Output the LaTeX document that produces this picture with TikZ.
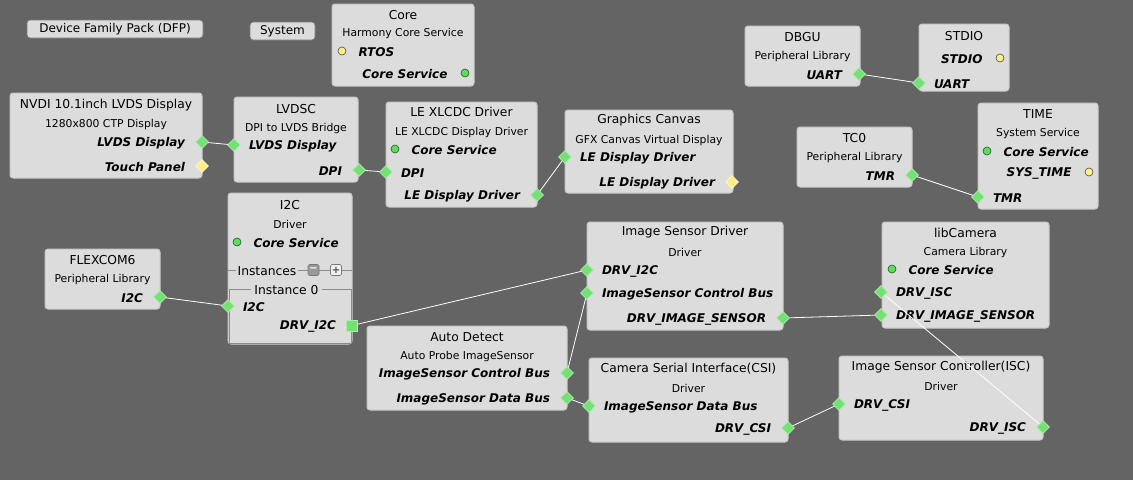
\documentclass[tikz,border=0pt]{standalone}
\usepackage{fontspec}
\setmainfont{DejaVu Sans}
\usepackage{tikz}
\usetikzlibrary{positioning}
\usetikzlibrary{shapes.geometric}
\definecolor{bggray}{RGB}{100,100,100}
\definecolor{boxfill}{RGB}{220,220,220}
\definecolor{boxedge}{RGB}{200,200,200}
\definecolor{btnedge}{RGB}{120,120,120}
\definecolor{pingreen}{RGB}{115,225,115}
\definecolor{pinedge}{RGB}{175,235,175}
\definecolor{pinyellow}{RGB}{255,238,135}
\definecolor{dotgreen}{RGB}{95,220,95}
\definecolor{dotedge}{RGB}{30,90,30}
\tikzset{comp/.style={rectangle, rounded corners=3pt, draw=boxedge, fill=boxfill, line width=1pt, inner sep=0}}
\tikzset{btn/.style={rectangle, rounded corners=3pt, draw=btnedge, fill=boxfill, line width=0.8pt, inner sep=0, font=\fontsize{12}{14}\selectfont}}
\tikzset{minibtn/.style={rectangle, rounded corners=1.5pt, draw=btnedge, line width=0.6pt, inner sep=0, minimum size=11pt, font=\fontsize{10}{10}\selectfont\bfseries}}
\tikzset{ttl/.style={inner sep=0, yshift=-1pt, font=\fontsize{12.3}{14}\selectfont}}
\tikzset{subttl/.style={inner sep=0, yshift=-1.5pt, font=\fontsize{10.8}{13}\selectfont}}
\tikzset{lbl/.style={inner sep=0, yshift=-1pt, font=\fontsize{12}{14}\selectfont\bfseries\itshape}}
\tikzset{portg/.style={diamond, fill=pingreen, draw=pinedge, line width=0.6pt, inner sep=0, minimum width=13pt, minimum height=13pt}}
\tikzset{porty/.style={portg, fill=pinyellow, draw=white!60!pinyellow}}
\tikzset{sqport/.style={rectangle, fill=pingreen, draw=pinedge, line width=0.6pt, inner sep=0, minimum size=11pt}}
\tikzset{dotg/.style={circle, fill=dotgreen, draw=dotedge, line width=0.6pt, inner sep=0, minimum size=8pt}}
\tikzset{doty/.style={dotg, fill=pinyellow, draw=black!70}}
\tikzset{wire/.style={draw=white, line width=0.8pt}}
\tikzset{instline/.style={draw=black!45, line width=0.7pt}}

\begin{document}
\begin{tikzpicture}[x=1pt, y=-1pt]
  \fill[bggray] (0,0) rectangle (1133,480);
  \useasboundingbox (0,0) rectangle (1133,480);

  % top buttons
  \node [btn, minimum width=176pt, minimum height=18pt] (dfp) at (115,29) {Device Family Pack (DFP)};
  \node [btn, minimum width=65pt, minimum height=18pt] (system) at (282.5,31) {System};

  % Core
  \node [comp, minimum width=142pt, minimum height=82pt] (core) at (403,45) {};
  \node [ttl] (core-t) at (403,14) {Core};
  \node [subttl] (core-s) at (403,32) {Harmony Core Service};
  \node [doty] (core-rtos) at (342,51) {};
  \node [lbl, right=12pt of core-rtos] (core-rtos-l) {RTOS};
  \node [dotg] (core-cs) at (465,73) {};
  \node [lbl, left=13pt of core-cs] (core-cs-l) {Core Service};

  % NVDI display
  \node [comp, minimum width=192pt, minimum height=85pt] (nvdi) at (106,135.5) {};
  \node [ttl] (nvdi-t) at (106,104) {NVDI 10.1inch LVDS Display};
  \node [subttl] (nvdi-s) at (106,123) {1280x800 CTP Display};
  \node [portg] (nvdi-lvds) at (202,142) {};
  \node [lbl, left=10pt of nvdi-lvds] (nvdi-lvds-l) {LVDS Display};
  \node [porty] (nvdi-touch) at (202,166) {};
  \node [lbl, left=10pt of nvdi-touch] (nvdi-touch-l) {Touch Panel};

  % LVDSC
  \node [comp, minimum width=124pt, minimum height=85pt] (lvdsc) at (296,139.5) {};
  \node [ttl] (lvdsc-t) at (296,108) {LVDSC};
  \node [subttl] (lvdsc-s) at (296,127) {DPI to LVDS Bridge};
  \node [portg] (lvdsc-lvds) at (234,145) {};
  \node [lbl, right=8pt of lvdsc-lvds] (lvdsc-lvds-l) {LVDS Display};
  \node [portg] (lvdsc-dpi) at (359,170) {};
  \node [lbl, left=10pt of lvdsc-dpi] (lvdsc-dpi-l) {DPI};

  % LE XLCDC
  \node [comp, minimum width=151pt, minimum height=105pt] (xlcdc) at (461.5,154.5) {};
  \node [ttl] (xlcdc-t) at (461.5,111) {LE XLCDC Driver};
  \node [subttl] (xlcdc-s) at (461.5,131) {LE XLCDC Display Driver};
  \node [dotg] (xlcdc-cs) at (395,149) {};
  \node [lbl, right=12pt of xlcdc-cs] (xlcdc-cs-l) {Core Service};
  \node [portg] (xlcdc-dpi) at (386,172) {};
  \node [lbl, right=8pt of xlcdc-dpi] (xlcdc-dpi-l) {DPI};
  \node [portg] (xlcdc-le) at (537,195) {};
  \node [lbl, left=10pt of xlcdc-le] (xlcdc-le-l) {LE Display Driver};

  % Graphics Canvas
  \node [comp, minimum width=168pt, minimum height=83pt] (canvas) at (649,151.5) {};
  \node [ttl] (canvas-t) at (649,119) {Graphics Canvas};
  \node [subttl] (canvas-s) at (649,139) {GFX Canvas Virtual Display};
  \node [portg] (canvas-le) at (565,157) {};
  \node [lbl, right=8pt of canvas-le] (canvas-le-l) {LE Display Driver};
  \node [porty] (canvas-out) at (732,182) {};
  \node [lbl, left=10pt of canvas-out] (canvas-out-l) {LE Display Driver};

  % DBGU / STDIO
  \node [comp, minimum width=115pt, minimum height=60pt] (dbgu) at (802.5,56) {};
  \node [ttl] (dbgu-t) at (802.5,36) {DBGU};
  \node [subttl] (dbgu-s) at (802.5,55) {Peripheral Library};
  \node [portg] (dbgu-uart) at (859,74) {};
  \node [lbl, left=10pt of dbgu-uart] (dbgu-uart-l) {UART};
  \node [comp, minimum width=90pt, minimum height=67pt] (stdio) at (964,57.5) {};
  \node [ttl] (stdio-t) at (964,35) {STDIO};
  \node [doty] (stdio-out) at (1000,58) {};
  \node [lbl, left=13pt of stdio-out] (stdio-out-l) {STDIO};
  \node [portg] (stdio-uart) at (919,83) {};
  \node [lbl, right=8pt of stdio-uart] (stdio-uart-l) {UART};

  % TC0 / TIME
  \node [comp, minimum width=115pt, minimum height=60pt] (tco) at (854.5,157) {};
  \node [ttl] (tco-t) at (854.5,137) {TC0};
  \node [subttl] (tco-s) at (854.5,156) {Peripheral Library};
  \node [portg] (tco-tmr) at (912,175) {};
  \node [lbl, left=10pt of tco-tmr] (tco-tmr-l) {TMR};
  \node [comp, minimum width=120pt, minimum height=106pt] (time) at (1038,156) {};
  \node [ttl] (time-t) at (1038,113) {TIME};
  \node [subttl] (time-s) at (1038,132) {System Service};
  \node [dotg] (time-cs) at (987,151) {};
  \node [lbl, right=12pt of time-cs] (time-cs-l) {Core Service};
  \node [doty] (time-sys) at (1089,172) {};
  \node [lbl, left=13pt of time-sys] (time-sys-l) {SYS\_TIME};
  \node [portg] (time-tmr) at (978,197) {};
  \node [lbl, right=8pt of time-tmr] (time-tmr-l) {TMR};

  % FLEXCOM6
  \node [comp, minimum width=115pt, minimum height=60pt] (flex) at (102.5,279) {};
  \node [ttl] (flex-t) at (102.5,259) {FLEXCOM6};
  \node [subttl] (flex-s) at (102.5,278) {Peripheral Library};
  \node [portg] (flex-i2c) at (160,297) {};
  \node [lbl, left=10pt of flex-i2c] (flex-i2c-l) {I2C};

  % I2C driver
  \node [comp, minimum width=124pt, minimum height=151pt] (itwoc) at (290,268.5) {};
  \node [ttl] (itwoc-t) at (290,204) {I2C};
  \node [subttl] (itwoc-s) at (290,223) {Driver};
  \node [dotg] (itwoc-cs) at (237,242) {};
  \node [lbl, right=12pt of itwoc-cs] (itwoc-cs-l) {Core Service};
  \draw [instline] (228,270) -- (352,270);
  \node [ttl, fill=boxfill, inner xsep=2pt, inner ysep=1pt] (itwoc-inst) at (267,270) {Instances};
  \node [minibtn, fill=black!40, text=white] (itwoc-minus) at (313.5,270) {−};
  \node [minibtn, fill=white!94!black, text=black!70] (itwoc-plus) at (336,270) {+};
  \draw [instline] (229,289) rectangle (351,343);
  \node [ttl, fill=boxfill, inner xsep=3pt, inner ysep=1pt] (itwoc-inst0) at (286.5,289) {Instance 0};
  \node [portg] (itwoc-i2c) at (228,306) {};
  \node [lbl, right=8pt of itwoc-i2c] (itwoc-i2c-l) {I2C};
  \node [sqport] (itwoc-drv) at (352,325.5) {};
  \node [lbl, left=10pt of itwoc-drv] (itwoc-drv-l) {DRV\_I2C};

  % Image Sensor Driver
  \node [comp, minimum width=196pt, minimum height=108pt] (isd) at (685,276) {};
  \node [ttl] (isd-t) at (685,231) {Image Sensor Driver};
  \node [subttl] (isd-s) at (685,251) {Driver};
  \node [portg] (isd-i2c) at (587,270) {};
  \node [lbl, right=8pt of isd-i2c] (isd-i2c-l) {DRV\_I2C};
  \node [portg] (isd-ctrl) at (587,293) {};
  \node [lbl, right=8pt of isd-ctrl] (isd-ctrl-l) {ImageSensor Control Bus};
  \node [portg] (isd-img) at (783,318) {};
  \node [lbl, left=10pt of isd-img] (isd-img-l) {DRV\_IMAGE\_SENSOR};

  % Auto Detect
  \node [comp, minimum width=200pt, minimum height=84pt] (auto) at (467,368) {};
  \node [ttl] (auto-t) at (467,336) {Auto Detect};
  \node [subttl] (auto-s) at (467,355) {Auto Probe ImageSensor};
  \node [portg] (auto-ctrl) at (567,373) {};
  \node [lbl, left=10pt of auto-ctrl] (auto-ctrl-l) {ImageSensor Control Bus};
  \node [portg] (auto-data) at (567,398) {};
  \node [lbl, left=10pt of auto-data] (auto-data-l) {ImageSensor Data Bus};

  % CSI
  \node [comp, minimum width=199pt, minimum height=84pt] (csi) at (688.5,400) {};
  \node [ttl] (csi-t) at (688.5,368) {Camera Serial Interface(CSI)};
  \node [subttl] (csi-s) at (688.5,387) {Driver};
  \node [portg] (csi-data) at (589,406) {};
  \node [lbl, right=8pt of csi-data] (csi-data-l) {ImageSensor Data Bus};
  \node [portg] (csi-drv) at (788,428) {};
  \node [lbl, left=10pt of csi-drv] (csi-drv-l) {DRV\_CSI};

  % libCamera
  \node [comp, minimum width=167pt, minimum height=106pt] (cam) at (965.5,275) {};
  \node [ttl] (cam-t) at (965.5,232) {libCamera};
  \node [subttl] (cam-s) at (965.5,251) {Camera Library};
  \node [dotg] (cam-cs) at (892,269) {};
  \node [lbl, right=12pt of cam-cs] (cam-cs-l) {Core Service};
  \node [portg] (cam-isc) at (881,292) {};
  \node [lbl, right=8pt of cam-isc] (cam-isc-l) {DRV\_ISC};
  \node [portg] (cam-img) at (881,315) {};
  \node [lbl, right=8pt of cam-img] (cam-img-l) {DRV\_IMAGE\_SENSOR};

  % ISC
  \node [comp, minimum width=204pt, minimum height=84pt] (isc) at (941,398) {};
  \node [ttl] (isc-t) at (941,366) {Image Sensor Controller(ISC)};
  \node [subttl] (isc-s) at (941,385) {Driver};
  \node [portg] (isc-csi) at (839,404) {};
  \node [lbl, right=8pt of isc-csi] (isc-csi-l) {DRV\_CSI};
  \node [portg] (isc-isc) at (1043,427) {};
  \node [lbl, left=10pt of isc-isc] (isc-isc-l) {DRV\_ISC};

  % connections
  \draw [wire] (nvdi-lvds) -- (lvdsc-lvds);
  \draw [wire] (lvdsc-dpi) -- (xlcdc-dpi);
  \draw [wire] (xlcdc-le) -- (canvas-le);
  \draw [wire] (dbgu-uart) -- (stdio-uart);
  \draw [wire] (tco-tmr) -- (time-tmr);
  \draw [wire] (flex-i2c) -- (itwoc-i2c);
  \draw [wire] (itwoc-drv) -- (isd-i2c);
  \draw [wire] (isd-ctrl) -- (auto-ctrl);
  \draw [wire] (auto-data) -- (csi-data);
  \draw [wire] (csi-drv) -- (isc-csi);
  \draw [wire] (isd-img) -- (cam-img);
  \draw [wire] (cam-isc) -- (isc-isc);
\end{tikzpicture}
\end{document}
